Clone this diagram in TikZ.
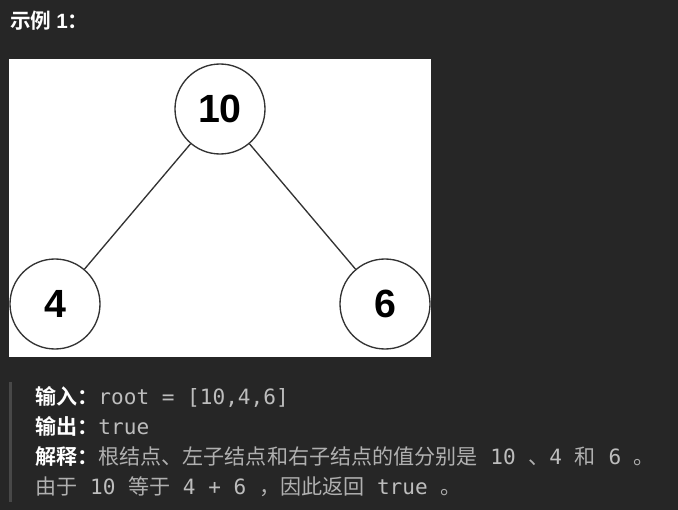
\documentclass[tikz,border=0pt]{standalone}
\usepackage{fontspec}
\setmainfont{Liberation Sans}
\setmonofont{DejaVu Sans Mono}
\newfontfamily\cjk{Noto Sans CJK SC}[BoldFont={Noto Sans CJK SC Bold}]
\usetikzlibrary{positioning}
\definecolor{pagebg}{HTML}{262626}
\definecolor{edgegray}{HTML}{333333}
\definecolor{codegray}{HTML}{BDBDBD}
\definecolor{notegray}{HTML}{B0B0B0}
\definecolor{quotebar}{HTML}{484848}
\tikzset{treenode/.style={draw=edgegray, circle, fill=white, minimum size=67.5pt, inner sep=0pt, line width=1pt, font=\fontsize{29.5}{30}\selectfont\bfseries}}
\tikzset{treeedge/.style={draw=edgegray, line width=1pt}}
\tikzset{textline/.style={anchor=base west, inner sep=0pt, font=\fontsize{15.8}{18}\selectfont\ttfamily, text=codegray}}
\newcommand{\lbl}[1]{{\cjk\bfseries\color{white}#1}}
\newcommand{\zh}[1]{{\cjk\color{notegray}#1}}

\begin{document}
\begin{tikzpicture}[x=0.75pt, y=-0.75pt]

\fill[pagebg] (0,0) rectangle (678,510);
\useasboundingbox (0,0) rectangle (678,510);

\node[anchor=base west, inner sep=0pt, text=white, font=\fontsize{15.5}{18}\selectfont\bfseries] (title) at (10,29) {{\cjk 示例}\hspace{3.5pt}1{\cjk ：}};

\fill[white] (9,59) rectangle (431,357);

\node[treenode] (root) at (220,109) {10};
\node[treenode] (left) at (55,304) {4};
\node[treenode] (right) at (385,304) {6};

\draw[treeedge] (root) -- (left);
\draw[treeedge] (root) -- (right);

\fill[quotebar] (9,382) rectangle (12,502);

\node[textline] (input) at (35,404) {\lbl{输入：}root = [10,4,6]};
\node[textline] (output) at (35,434) {\lbl{输出：}true};
\node[textline] (explain) at (35,464) {\lbl{解释：}\zh{根结点、左子结点和右子结点的值分别是} 10 \zh{、}4 \zh{和} 6 \zh{。}};
\node[textline] (reason) at (35,494) {\zh{由于} 10 \zh{等于} 4 + 6 \zh{，因此返回} true \zh{。}};

\end{tikzpicture}
\end{document}
